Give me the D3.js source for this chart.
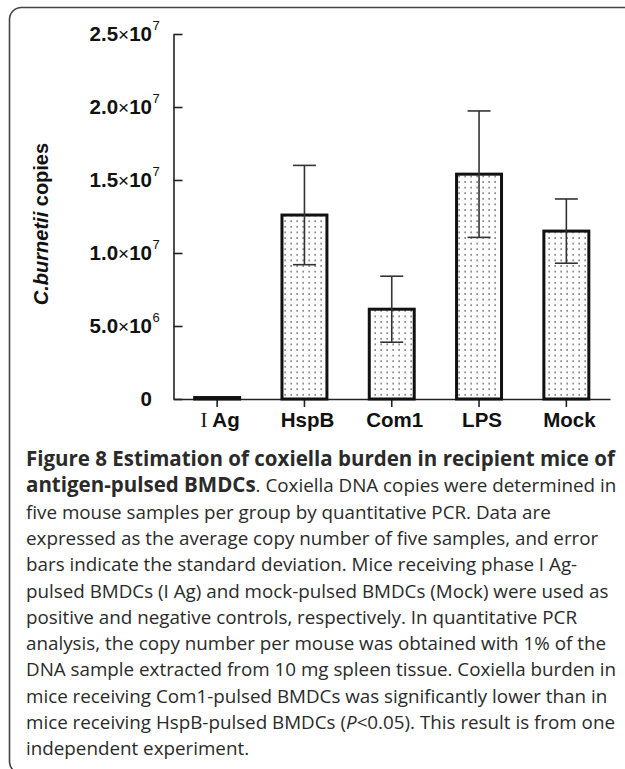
<!DOCTYPE html>
<html>
<head>
<meta charset="utf-8">
<script src="https://cdn.jsdelivr.net/npm/d3@7"></script>
<style>
  body { margin: 0; background: #fff; }
  svg { display: block; }
</style>
</head>
<body>
<div id="chart"></div>
<script>
// data
const categories = ["I Ag", "HspB", "Com1", "LPS", "Mock"];
const means = [0.1e6, 12.6e6, 6.15e6, 15.4e6, 11.5e6];
const sds = [0, 3.4e6, 2.26e6, 4.33e6, 2.2e6];
const yTicks = [0, 5e6, 1e7, 1.5e7, 2e7, 2.5e7];
const tickMantissa = ["0", "5.0", "1.0", "1.5", "2.0", "2.5"];
const tickExp = ["", "6", "7", "7", "7", "7"];

const captionLines = [
  [["b", "Figure 8 Estimation of coxiella burden in recipient mice of"]],
  [["b", "antigen-pulsed BMDCs"], ["r", ". Coxiella DNA copies were determined in"]],
  [["r", "five mouse samples per group by quantitative PCR. Data are"]],
  [["r", "expressed as the average copy number of five samples, and error"]],
  [["r", "bars indicate the standard deviation. Mice receiving phase I Ag-"]],
  [["r", "pulsed BMDCs (I Ag) and mock-pulsed BMDCs (Mock) were used as"]],
  [["r", "positive and negative controls, respectively. In quantitative PCR"]],
  [["r", "analysis, the copy number per mouse was obtained with 1% of the"]],
  [["r", "DNA sample extracted from 10 mg spleen tissue. Coxiella burden in"]],
  [["r", "mice receiving Com1-pulsed BMDCs was significantly lower than in"]],
  [["r", "mice receiving HspB-pulsed BMDCs ("], ["i", "P"], ["r", "<0.05). This result is from one"]],
  [["r", "independent experiment."]]
];

const W = 625, H = 769;
const svg = d3.select("#chart").append("svg")
  .attr("width", W)
  .attr("height", H);

// frame round the figure, its bottom edge falls just below the page
svg.append("rect")
  .attr("x", 9.5).attr("y", 7.5)
  .attr("width", 640).attr("height", 766)
  .attr("rx", 12).attr("ry", 12)
  .attr("fill", "none")
  .attr("stroke", "#444")
  .attr("stroke-width", 1.6);

// dotted fill
const defs = svg.append("defs");
const pat = defs.append("pattern")
  .attr("id", "dots")
  .attr("patternUnits", "userSpaceOnUse")
  .attr("width", 6).attr("height", 5.6);
pat.append("rect").attr("width", 6).attr("height", 5.6).attr("fill", "#fff");
pat.append("rect").attr("x", 2.4).attr("y", 2.1).attr("width", 1.5).attr("height", 1.4).attr("fill", "#555");

const x0 = 173.5, x1 = 610, yBase = 399, yTop = 34;

const x = d3.scaleBand()
  .domain(categories)
  .range([x0, x1])
  .paddingInner(0.485)
  .paddingOuter(0.2425);

const y = d3.scaleLinear()
  .domain([0, 2.5e7])
  .range([yBase, yTop]);

const axisFont = "'Liberation Sans', Arial, sans-serif";

// y axis, ticks pointing inwards
const yAxis = svg.append("g")
  .attr("transform", "translate(" + x0 + ",0)")
  .call(d3.axisLeft(y).tickValues(yTicks).tickSizeInner(-9).tickSizeOuter(0)
    .tickPadding(21.5)
    .tickFormat((d, i) => tickMantissa[i]));
yAxis.select(".domain").attr("stroke", "#222").attr("stroke-width", 1.6);
yAxis.selectAll(".tick line").attr("stroke", "#222").attr("stroke-width", 1.6);
yAxis.selectAll(".tick text")
  .attr("font-family", axisFont)
  .attr("font-weight", "bold")
  .attr("font-size", 20.5)
  .attr("fill", "#111")
  .each(function(d, i) {
    if (tickExp[i] === "") return;
    const t = d3.select(this);
    t.text(null);
    t.append("tspan").text(tickMantissa[i]);
    t.append("tspan").attr("font-weight", "normal").attr("font-size", 19).text("×");
    t.append("tspan").text("10");
  });
// superscripts hang past the right edge of the labels
yAxis.selectAll(".tick").each(function(d, i) {
  if (tickExp[i] === "") return;
  d3.select(this).append("text")
    .attr("x", -21)
    .attr("y", -5)
    .attr("text-anchor", "start")
    .attr("font-family", axisFont)
    .attr("font-size", 13)
    .attr("fill", "#111")
    .text(tickExp[i]);
});

// x axis
const xAxis = svg.append("g")
  .attr("transform", "translate(0," + yBase + ")")
  .call(d3.axisBottom(x).tickSizeInner(8).tickSizeOuter(0).tickPadding(5));
xAxis.select(".domain").attr("stroke", "#222").attr("stroke-width", 1.6);
xAxis.selectAll(".tick line").attr("stroke", "#222").attr("stroke-width", 1.6);
xAxis.selectAll(".tick text")
  .attr("font-family", axisFont)
  .attr("font-weight", "bold")
  .attr("font-size", 20.5)
  .attr("fill", "#111")
  .attr("dx", 3)
  .each(function(d) {
    if (d !== "I Ag") return;
    const t = d3.select(this);
    t.text(null);
    t.append("tspan").attr("font-family", "'Liberation Serif', serif").attr("font-weight", "normal").text("I");
    t.append("tspan").text(" Ag");
  });

// bars
svg.selectAll(".bar")
  .data(categories)
  .enter()
  .append("rect")
  .attr("class", "bar")
  .attr("x", d => x(d))
  .attr("width", x.bandwidth())
  .attr("y", (d, i) => y(means[i]))
  .attr("height", (d, i) => yBase - y(means[i]))
  .attr("fill", "url(#dots)")
  .attr("stroke", "#111")
  .attr("stroke-width", 3);

// error bars
const capW = 23;
const err = svg.selectAll(".err")
  .data(categories.filter((d, i) => sds[i] > 0))
  .enter()
  .append("g")
  .attr("class", "err")
  .attr("stroke", "#333")
  .attr("stroke-width", 1.6);
err.append("line")
  .attr("x1", d => x(d) + x.bandwidth() / 2)
  .attr("x2", d => x(d) + x.bandwidth() / 2)
  .attr("y1", d => { const i = categories.indexOf(d); return y(means[i] + sds[i]); })
  .attr("y2", d => { const i = categories.indexOf(d); return y(means[i] - sds[i]); });
err.append("line")
  .attr("x1", d => x(d) + x.bandwidth() / 2 - capW / 2)
  .attr("x2", d => x(d) + x.bandwidth() / 2 + capW / 2)
  .attr("y1", d => { const i = categories.indexOf(d); return y(means[i] + sds[i]); })
  .attr("y2", d => { const i = categories.indexOf(d); return y(means[i] + sds[i]); });
err.append("line")
  .attr("x1", d => x(d) + x.bandwidth() / 2 - capW / 2)
  .attr("x2", d => x(d) + x.bandwidth() / 2 + capW / 2)
  .attr("y1", d => { const i = categories.indexOf(d); return y(means[i] - sds[i]); })
  .attr("y2", d => { const i = categories.indexOf(d); return y(means[i] - sds[i]); });

// y axis title
const yTitle = svg.append("text")
  .attr("transform", "translate(48,224) rotate(-90)")
  .attr("text-anchor", "middle")
  .attr("font-family", axisFont)
  .attr("font-weight", "bold")
  .attr("font-size", 20)
  .attr("fill", "#111");
yTitle.append("tspan").attr("font-style", "italic").text("C.burnetii");
yTitle.append("tspan").text(" copies");

// caption
const capX = 26, capY = 466, capStep = 26.3;
const cap = svg.append("g")
  .attr("font-family", "'Open Sans', sans-serif")
  .attr("fill", "#2a2a2a");
const lines = cap.selectAll("text")
  .data(captionLines)
  .enter()
  .append("text")
  .attr("x", capX)
  .attr("y", (d, i) => capY + i * capStep);
lines.each(function(parts) {
  const t = d3.select(this);
  parts.forEach(p => {
    t.append("tspan")
      .attr("class", p[0] === "b" ? "cb" : "cr")
      .attr("font-weight", p[0] === "b" ? 700 : 400)
      .attr("font-style", p[0] === "i" ? "italic" : null)
      .attr("font-size", 16)
      .text(p[1]);
  });
});
// fit the font sizes to the widths in the figure
const nodes = lines.nodes();
const kb = 589 / nodes[0].getComputedTextLength();
const kr = 583 / nodes[5].getComputedTextLength();
cap.selectAll("tspan.cb").attr("font-size", 16 * kb);
cap.selectAll("tspan.cr").attr("font-size", 16 * kr);
</script>
</body>
</html>
